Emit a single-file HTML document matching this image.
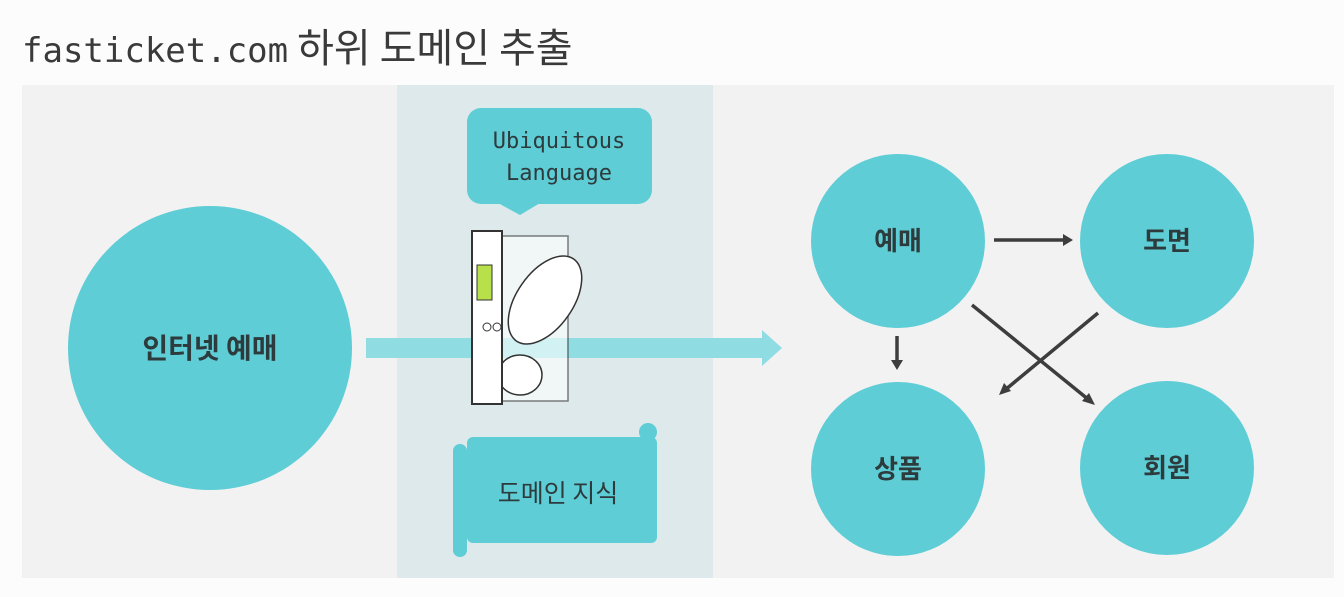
<!DOCTYPE html>
<html><head><meta charset="utf-8"><style>
body{margin:0;width:1344px;height:592px;background:#fcfcfc;overflow:hidden;font-family:"Liberation Sans","Noto Sans CJK KR",sans-serif}
</style></head><body>
<svg width="1344" height="592" xmlns="http://www.w3.org/2000/svg">
<text x="22" y="62" font-family="'DejaVu Sans Mono','Liberation Mono','Noto Sans CJK KR',monospace" font-size="34" fill="#3a3a3a">fasticket.com<tspan font-family="'Noto Sans CJK KR',sans-serif" font-size="40"> 하위 도메인 추출</tspan></text>
<rect x="22" y="85" width="1312" height="493" fill="#f2f2f3"/>
<rect x="397" y="85" width="316" height="493" fill="#dde9ea"/>
<circle cx="210" cy="348" r="142" fill="#5ecdd6"/>
<text x="210" y="358" text-anchor="middle" font-family="'Noto Sans CJK KR',sans-serif" font-weight="bold" font-size="28" fill="#2d3b3d">인터넷 예매</text>
<polygon points="366,338 762,338 762,330 782,348 762,366 762,358 366,358" fill="#8fdde3"/>
<rect x="467" y="108" width="185" height="96" rx="14" fill="#5ecdd6"/>
<polygon points="498,203 540,203 520,215" fill="#5ecdd6"/>
<text x="559" y="148" text-anchor="middle" font-family="'DejaVu Sans Mono',monospace" font-size="22" fill="#2d3b3d">Ubiquitous</text>
<text x="559" y="180" text-anchor="middle" font-family="'DejaVu Sans Mono',monospace" font-size="22" fill="#2d3b3d">Language</text>
<rect x="502" y="236" width="66" height="165" fill="#fff" stroke="#333" stroke-width="1.5" opacity="0.6"/>
<ellipse cx="545" cy="300" rx="28" ry="50" fill="#fff" stroke="#333" stroke-width="1.5" transform="rotate(35 545 300)"/>
<ellipse cx="520" cy="375" rx="22" ry="20" fill="#fff" stroke="#333" stroke-width="1.5"/>
<rect x="472" y="231" width="30" height="173" fill="#fff" stroke="#333" stroke-width="2"/>
<rect x="477" y="265" width="15" height="35" fill="#b8e04a" stroke="#333"/>
<circle cx="487" cy="327" r="4" fill="#fff" stroke="#333"/><circle cx="497" cy="327" r="4" fill="#fff" stroke="#333"/>
<rect x="467" y="437" width="190" height="106" rx="6" fill="#5ecdd6"/>
<rect x="453" y="444" width="14" height="113" rx="7" fill="#5ecdd6"/>
<circle cx="648" cy="432" r="9" fill="#5ecdd6"/>
<text x="558" y="502" text-anchor="middle" font-family="'Noto Sans CJK KR',sans-serif" font-size="25" fill="#2d3b3d">도메인 지식</text>
<g fill="#5ecdd6">
<circle cx="898" cy="241" r="87"/><circle cx="1167" cy="241" r="87"/>
<circle cx="898" cy="469" r="87"/><circle cx="1167" cy="468" r="87"/>
</g>
<g font-family="'Noto Sans CJK KR',sans-serif" font-weight="bold" font-size="26" fill="#2d3b3d" text-anchor="middle">
<text x="898" y="250">예매</text><text x="1167" y="250">도면</text>
<text x="898" y="478">상품</text><text x="1167" y="477">회원</text>
</g>
<g stroke="#3d3d3d" stroke-width="3.5" fill="none">
<line x1="994" y1="240" x2="1066" y2="240"/>
<line x1="897" y1="336" x2="897" y2="363"/>
<line x1="972" y1="305" x2="1089" y2="400"/>
<line x1="1098" y1="313" x2="1005" y2="390"/>
</g>
<g fill="#3d3d3d">
<polygon points="1073,240 1063,234 1063,246"/>
<polygon points="897,370 891,360 903,360"/>
<polygon points="1095,405 1082,401 1089,393"/>
<polygon points="999,395 1004,383 1011,391"/>
</g>
</svg>
</body></html>
